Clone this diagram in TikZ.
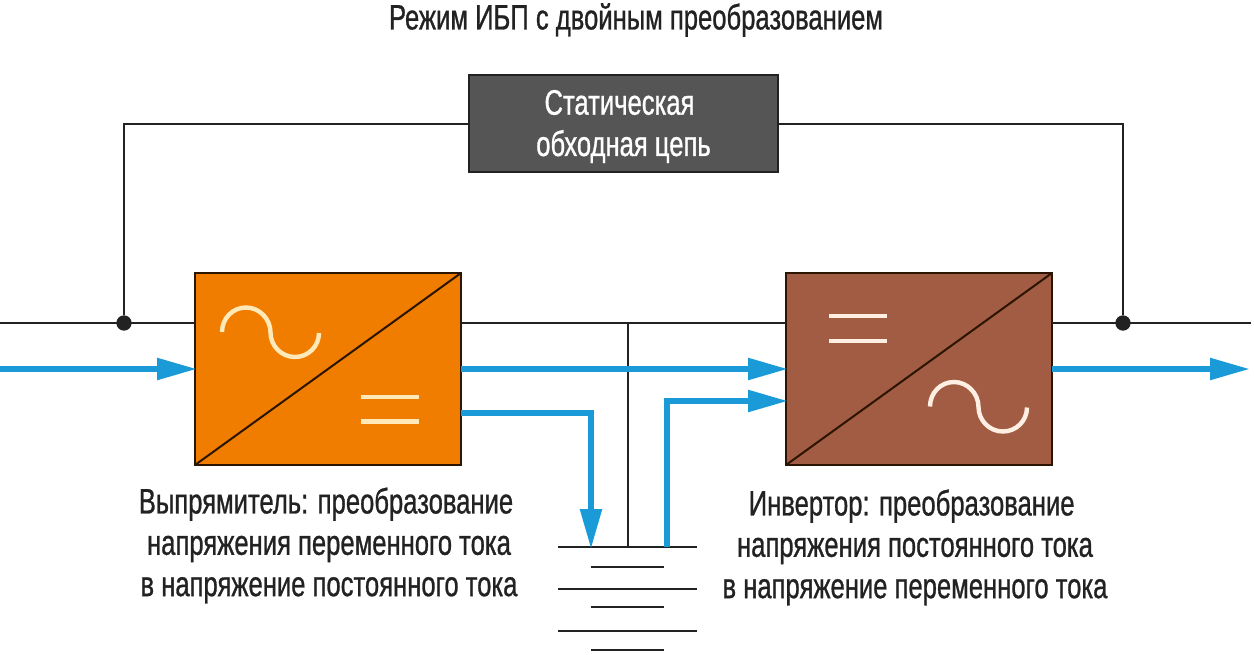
\documentclass[tikz,border=0pt]{standalone}
\usepackage{fontspec}
\setmainfont[FakeStretch=0.725,FakeBold=0.8]{Liberation Sans}
\usetikzlibrary{arrows.meta}
\definecolor{flow}{HTML}{1A9BD7}
\definecolor{wire}{HTML}{222222}
\definecolor{recbox}{HTML}{F07D00}
\definecolor{invbox}{HTML}{A35C44}
\definecolor{bypbox}{HTML}{555555}
\definecolor{recsym}{HTML}{FFE9B8}
\definecolor{invsym}{HTML}{FFEFE2}
\definecolor{rededge}{HTML}{2B1400}
\newcommand{\sinecurve}{(222,332) .. controls (222,318.5) and (232.5,307.5) .. (246,307.5) .. controls (259.5,307.5) and (270.5,319) .. (270.5,332.5) .. controls (270.5,346) and (281.5,357) .. (295,357) .. controls (308,357) and (319,346.5) .. (319,333)}
\tikzset{
  wireline/.style={draw=wire,line width=1.5pt},
  thinbat/.style={draw=wire,line width=1.2pt},
  flowline/.style={draw=flow,line width=4.6pt,shorten >=-1.6pt,-{Triangle[length=30pt,width=15.5pt,color=flow]}},
  conv/.style={draw=rededge,line width=1.6pt,minimum width=199.5pt,minimum height=144pt,inner sep=0pt,outer sep=0pt},
  lab/.style={align=center,font=\fontsize{26.5pt}{31pt}\selectfont,text=wire,inner sep=0pt},
  dot/.style={circle,fill=wire,minimum size=11.5pt,inner sep=0pt,outer sep=0pt},
}
\begin{document}
\begin{tikzpicture}[x=0.75pt,y=-0.75pt]
\useasboundingbox (0,0) rectangle (1254,654);
\node[lab] (title) at (636,20) {Режим ИБП с двойным преобразованием};
\node[draw=wire,fill=bypbox,line width=1.5pt,minimum width=231.5pt,minimum height=72.5pt,inner sep=0pt,outer sep=0pt] (byp) at (623.5,123.5) {};
\node[lab,text=white] (byptxt) at (623.5,126.5) {Статическая\hspace*{6pt}\\обходная цепь};
\node[conv,fill=recbox] (rec) at (328,369) {};
\node[conv,fill=invbox] (inv) at (919,369) {};
\node[dot] (jl) at (124,323) {};
\node[dot] (jr) at (1123,323) {};
\coordinate (wl) at (0,323);
\coordinate (wr) at (1251,323);
\coordinate (tap) at (628,323);
% battery plates
\coordinate (b1l) at (558,547); \coordinate (b1r) at (697,547);
\coordinate (b2l) at (591,567); \coordinate (b2r) at (664,567);
\coordinate (b3l) at (558,589); \coordinate (b3r) at (697,589);
\coordinate (b4l) at (591,607); \coordinate (b4r) at (664,607);
\coordinate (b5l) at (558,631); \coordinate (b5r) at (697,631);
\coordinate (b6l) at (591,650); \coordinate (b6r) at (664,650);
% wires
\draw[wireline] (wl) -- (rec.west |- wl);
\draw[wireline] (rec.east |- wl) -- (inv.west |- wl);
\draw[wireline] (inv.east |- wr) -- (wr);
\draw[wireline] (jl) |- (byp.west);
\draw[wireline] (jr) |- (byp.east);
\draw[wireline] (tap) -- (tap |- b1l);
\draw[wireline] (b1l) -- (b1r);
\draw[thinbat] (b2l) -- (b2r);
\draw[wireline] (b3l) -- (b3r);
\draw[thinbat] (b4l) -- (b4r);
\draw[wireline] (b5l) -- (b5r);
\draw[thinbat] (b6l) -- (b6r);
% power flow
\coordinate (fin) at (0,369);
\coordinate (fout) at (1248,369);
\coordinate (chg) at (591,547);
\coordinate (dis) at (667,547);
\draw[flowline] (fin) -- (rec.west |- fin);
\draw[flowline] (rec.east |- fin) -- (inv.west |- fin);
\draw[flowline] (inv.east |- fout) -- (fout);
\draw[flowline] (rec.east |- 0,413) -| (chg);
\draw[flowline] (dis) |- (inv.west |- 0,401);
% converter symbols
\draw[draw=rededge,line width=1.5pt] (rec.south west) -- (rec.north east);
\draw[draw=rededge,line width=1.5pt] (inv.south west) -- (inv.north east);
\draw[recsym,line width=3.3pt] \sinecurve;
\draw[recsym,line width=3.2pt] (361,397) -- (419,397) (361,421.5) -- (419,421.5);
\draw[invsym,line width=3.2pt] (829,316) -- (886.5,316) (829,341) -- (886.5,341);
\begin{scope}[shift={(708,74.5)}]
\draw[invsym,line width=3.3pt] \sinecurve;
\end{scope}
% captions
\node[lab] (rectxt) at (329,545.5) {Выпрямитель: преобразование\hspace*{4.5pt}\\напряжения переменного тока\\в напряжение постоянного тока};
\node[lab] (invtxt) at (915,547.5) {Инвертор: преобразование\hspace*{5pt}\\напряжения постоянного тока\hspace*{6pt}\\в напряжение переменного тока};
\end{tikzpicture}
\end{document}
